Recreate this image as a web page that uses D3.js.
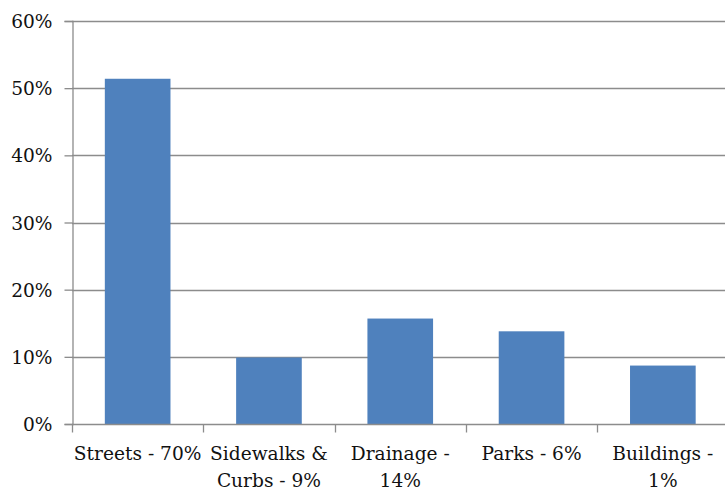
<!DOCTYPE html>
<html>
<head>
<meta charset="utf-8">
<script src="https://cdn.jsdelivr.net/npm/d3@7"></script>
<style>
    body { margin: 0; background: #fff; }
</style>
</head>
<body>
<div id="chart"></div>
<script>
    var categories = ["Streets - 70%", "Sidewalks & Curbs - 9%", "Drainage - 14%", "Parks - 6%", "Buildings - 1%"];
    var labelLines = [["Streets - 70%"], ["Sidewalks &", "Curbs - 9%"], ["Drainage -", "14%"], ["Parks - 6%"], ["Buildings -", "1%"]];
    var values = [0.514, 0.099, 0.157, 0.138, 0.087];
    var yTicks = [0, 0.1, 0.2, 0.3, 0.4, 0.5, 0.6];

    var width = 725, height = 491;
    var plotLeft = 72, plotTop = 21, plotBottom = 424;
    var step = 131.3;
    var fontSize = "18.6px";
    var fontFamily = "'DejaVu Serif', serif";

    var svg = d3.select("#chart").append("svg")
        .attr("width", width)
        .attr("height", height);

    var x = d3.scaleBand()
        .domain(categories)
        .range([plotLeft, plotLeft + step * categories.length])
        .paddingInner(0.5)
        .paddingOuter(0.25);

    var y = d3.scaleLinear()
        .domain([0, 0.6])
        .range([plotBottom, plotTop]);

    // gridlines
    svg.append("g")
        .selectAll("line")
        .data(yTicks.slice(1))
        .enter()
        .append("line")
        .attr("x1", plotLeft)
        .attr("x2", width)
        .attr("y1", function (d) { return Math.round(y(d)) + 0.5; })
        .attr("y2", function (d) { return Math.round(y(d)) + 0.5; })
        .style("stroke", "#8c8c8c")
        .style("stroke-width", 1.3);

    // bars
    svg.append("g")
        .selectAll("rect")
        .data(values)
        .enter()
        .append("rect")
        .attr("x", function (d, i) { return x(categories[i]); })
        .attr("width", x.bandwidth())
        .attr("y", function (d) { return y(d); })
        .attr("height", function (d) { return plotBottom - y(d); })
        .style("fill", "#4f81bd");

    // y axis
    var yAxis = svg.append("g")
        .attr("transform", "translate(" + (plotLeft + 0.5) + ",0)")
        .call(d3.axisLeft(y).tickValues(yTicks).tickFormat(d3.format(".0%")).tickSizeOuter(0).tickSize(8).tickPadding(12))
        .attr("font-family", null)
        .attr("font-size", null);
    yAxis.select(".domain").style("stroke", "#8c8c8c").style("stroke-width", 1.3);
    yAxis.selectAll(".tick line").style("stroke", "#8c8c8c").style("stroke-width", 1.3);
    yAxis.selectAll(".tick text")
        .style("font-size", fontSize)
        .style("font-family", fontFamily)
        .style("fill", "#111")
        .attr("dy", "0.35em");

    // x axis baseline and category ticks
    var xAxis = svg.append("g")
        .attr("transform", "translate(0," + (plotBottom + 0.5) + ")");
    xAxis.append("line")
        .attr("x1", plotLeft)
        .attr("x2", width)
        .style("stroke", "#8c8c8c")
        .style("stroke-width", 1.3);
    xAxis.selectAll(".ctick")
        .data(d3.range(categories.length + 1))
        .enter()
        .append("line")
        .attr("class", "ctick")
        .attr("x1", function (d) { return Math.round(plotLeft + d * step) + 0.5; })
        .attr("x2", function (d) { return Math.round(plotLeft + d * step) + 0.5; })
        .attr("y1", 0)
        .attr("y2", 8)
        .style("stroke", "#8c8c8c")
        .style("stroke-width", 1.3);

    var labels = xAxis.selectAll(".clabel")
        .data(categories)
        .enter()
        .append("text")
        .attr("class", "clabel")
        .attr("text-anchor", "middle")
        .style("font-size", fontSize)
        .style("font-family", fontFamily)
        .style("fill", "#111")
        .attr("transform", function (d) { return "translate(" + (x(d) + x.bandwidth() / 2) + ",0)"; });
    labels.selectAll("tspan")
        .data(function (d, i) { return labelLines[i]; })
        .enter()
        .append("tspan")
        .attr("x", 0)
        .attr("y", function (d, j) { return 35 + j * 27; })
        .text(function (d) { return d; });
</script>
</body>
</html>
